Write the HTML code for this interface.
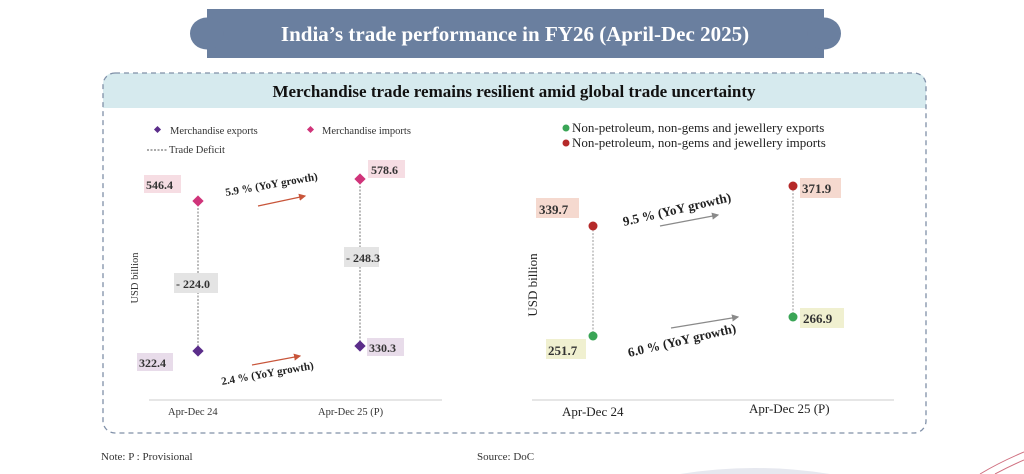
<!DOCTYPE html>
<html><head><meta charset="utf-8"><style>
html,body{margin:0;padding:0;background:#fff;width:1024px;height:474px;overflow:hidden;}
svg{display:block;}
text{font-family:"Liberation Serif",serif;}
</style></head><body>
<svg width="1024" height="474" viewBox="0 0 1024 474" xmlns="http://www.w3.org/2000/svg" style="overflow:hidden">
<defs>
<marker id="ar" markerWidth="6" markerHeight="6" refX="5" refY="3" orient="auto"><path d="M0,0 L6,3 L0,6 z" fill="#c8553a"/></marker>
<marker id="ag" markerWidth="6" markerHeight="6" refX="5" refY="3" orient="auto"><path d="M0,0 L6,3 L0,6 z" fill="#8a8a8a"/></marker>
</defs>
<!-- banner -->
<rect x="207" y="9" width="617" height="49" fill="#6a7f9f"/>
<ellipse cx="207" cy="33.5" rx="17" ry="16" fill="#6a7f9f"/>
<ellipse cx="824" cy="33.5" rx="17" ry="16" fill="#6a7f9f"/>
<text x="515" y="41" text-anchor="middle" fill="#fff" font-size="21" font-weight="bold">India’s trade performance in FY26 (April-Dec 2025)</text>
<!-- box -->
<path d="M115,73 H914 Q926,73 926,85 V108 H103 V85 Q103,73 115,73 z" fill="#d6eaee"/>
<rect x="103" y="73" width="823" height="360" rx="12" fill="none" stroke="#8090a8" stroke-width="1.3" stroke-dasharray="5,4"/>
<text x="514" y="97" text-anchor="middle" font-size="17" font-weight="bold" fill="#111">Merchandise trade remains resilient amid global trade uncertainty</text>

<!-- left legend -->
<rect x="155" y="127" width="5" height="5" fill="#5b2d8a" transform="rotate(45 157.5 129.5)"/>
<text x="170" y="134" font-size="10.5" fill="#333">Merchandise exports</text>
<rect x="308" y="127" width="5" height="5" fill="#d0347a" transform="rotate(45 310.5 129.5)"/>
<text x="322" y="134" font-size="10.5" fill="#333">Merchandise imports</text>
<line x1="147" y1="150" x2="168" y2="150" stroke="#555" stroke-dasharray="2,1.5"/>
<text x="169" y="153" font-size="10.5" fill="#333">Trade Deficit</text>

<!-- left chart -->
<line x1="149" y1="400" x2="442" y2="400" stroke="#ddd" stroke-width="1.5"/>
<text x="168" y="415" font-size="10.5" fill="#333">Apr-Dec 24</text>
<text x="318" y="415" font-size="10.5" fill="#333">Apr-Dec 25   (P)</text>
<text transform="translate(138,278) rotate(-90)" text-anchor="middle" font-size="10.5" fill="#333">USD billion</text>
<line x1="198" y1="201" x2="198" y2="351" stroke="#777" stroke-dasharray="2,1.5"/>
<line x1="360" y1="179" x2="360" y2="346" stroke="#777" stroke-dasharray="2,1.5"/>
<rect x="194" y="197" width="8" height="8" fill="#d0347a" transform="rotate(45 198 201)"/>
<rect x="356" y="175" width="8" height="8" fill="#d0347a" transform="rotate(45 360 179)"/>
<rect x="194" y="347" width="8" height="8" fill="#5b2d8a" transform="rotate(45 198 351)"/>
<rect x="356" y="342" width="8" height="8" fill="#5b2d8a" transform="rotate(45 360 346)"/>
<rect x="144" y="175" width="37" height="18" fill="#f6dde3"/>
<text x="146" y="189" font-size="12" font-weight="bold" fill="#333">546.4</text>
<rect x="368" y="160" width="37" height="18" fill="#f6dde3"/>
<text x="371" y="174" font-size="12" font-weight="bold" fill="#333">578.6</text>
<rect x="137" y="353" width="36" height="18" fill="#e8dcea"/>
<text x="139" y="367" font-size="12" font-weight="bold" fill="#333">322.4</text>
<rect x="367" y="338" width="37" height="18" fill="#e8dcea"/>
<text x="369" y="352" font-size="12" font-weight="bold" fill="#333">330.3</text>
<rect x="174" y="273" width="44" height="20" fill="#e4e4e4"/>
<text x="176" y="288" font-size="12" font-weight="bold" fill="#333">- 224.0</text>
<rect x="344" y="247" width="35" height="20" fill="#e4e4e4"/>
<text x="346" y="262" font-size="12" font-weight="bold" fill="#333">- 248.3</text>
<line x1="258" y1="206" x2="305" y2="196" stroke="#c8553a" stroke-width="1.2" marker-end="url(#ar)"/>
<text transform="translate(226,196) rotate(-10)" font-size="11" font-weight="bold" fill="#222">5.9 % (YoY growth)</text>
<line x1="252" y1="365" x2="300" y2="356" stroke="#c8553a" stroke-width="1.2" marker-end="url(#ar)"/>
<text transform="translate(222,385) rotate(-10)" font-size="11" font-weight="bold" fill="#222">2.4 % (YoY growth)</text>

<!-- right legend -->
<circle cx="566" cy="128" r="3.5" fill="#3aa556"/>
<text x="572" y="132" font-size="13" fill="#222">Non-petroleum, non-gems and jewellery exports</text>
<circle cx="566" cy="143" r="3.5" fill="#b52a2a"/>
<text x="572" y="147" font-size="13" fill="#222">Non-petroleum, non-gems and jewellery imports</text>

<!-- right chart -->
<line x1="532" y1="400" x2="894" y2="400" stroke="#ddd" stroke-width="1.5"/>
<text x="562" y="416" font-size="13" fill="#222">Apr-Dec 24</text>
<text x="749" y="413" font-size="13" fill="#222">Apr-Dec 25 (P)</text>
<text transform="translate(537,285) rotate(-90)" text-anchor="middle" font-size="13" fill="#222">USD billion</text>
<line x1="593" y1="226" x2="593" y2="336" stroke="#999" stroke-dasharray="2,1.5"/>
<line x1="793" y1="186" x2="793" y2="317" stroke="#999" stroke-dasharray="2,1.5"/>
<circle cx="593" cy="226" r="4.5" fill="#b52a2a"/>
<circle cx="793" cy="186" r="4.5" fill="#b52a2a"/>
<circle cx="593" cy="336" r="4.5" fill="#3aa556"/>
<circle cx="793" cy="317" r="4.5" fill="#3aa556"/>
<rect x="536" y="198" width="43" height="20" fill="#f5d9cf"/>
<text x="539" y="214" font-size="13" font-weight="bold" fill="#333">339.7</text>
<rect x="546" y="339" width="40" height="20" fill="#f0f0d0"/>
<text x="548" y="355" font-size="13" font-weight="bold" fill="#333">251.7</text>
<rect x="800" y="178" width="41" height="20" fill="#f5d9cf"/>
<text x="802" y="193" font-size="13" font-weight="bold" fill="#333">371.9</text>
<rect x="800" y="308" width="44" height="20" fill="#f0f0d0"/>
<text x="803" y="323" font-size="13" font-weight="bold" fill="#333">266.9</text>
<line x1="660" y1="226" x2="718" y2="215" stroke="#8a8a8a" stroke-width="1.2" marker-end="url(#ag)"/>
<text transform="translate(624,226) rotate(-13)" font-size="13" font-weight="bold" fill="#222">9.5 % (YoY growth)</text>
<line x1="671" y1="328" x2="738" y2="317" stroke="#8a8a8a" stroke-width="1.2" marker-end="url(#ag)"/>
<text transform="translate(629,357) rotate(-13)" font-size="13" font-weight="bold" fill="#222">6.0 % (YoY growth)</text>

<!-- footer -->
<text x="101" y="460" font-size="11" fill="#333">Note: P : Provisional</text>
<text x="477" y="460" font-size="11" fill="#333">Source: DoC</text>
<path d="M680,474 Q755,462 830,474 z" fill="#e6e8ef"/>
<path d="M980,474 Q1000,462 1024,452" fill="none" stroke="#d07080" stroke-width="1"/>
<path d="M995,474 Q1010,466 1024,460" fill="none" stroke="#d07080" stroke-width="1"/>
</svg>
</body></html>
